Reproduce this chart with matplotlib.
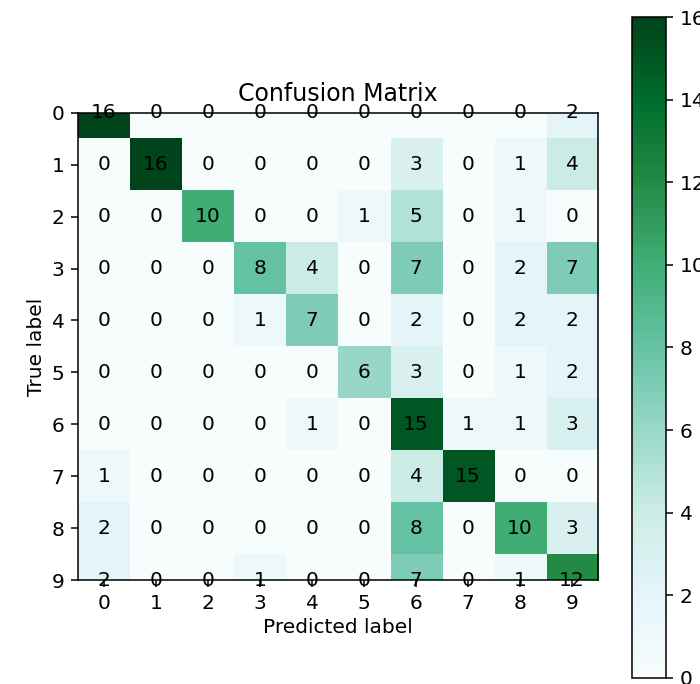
"""Confusion matrix heatmap with colorbar."""

import matplotlib
matplotlib.use("Agg")
import matplotlib.pyplot as plt
import numpy as np

classes = [str(i) for i in range(10)]
cm = np.array([
    [16, 0, 0, 0, 0, 0, 0, 0, 0, 2],
    [0, 16, 0, 0, 0, 0, 3, 0, 1, 4],
    [0, 0, 10, 0, 0, 1, 5, 0, 1, 0],
    [0, 0, 0, 8, 4, 0, 7, 0, 2, 7],
    [0, 0, 0, 1, 7, 0, 2, 0, 2, 2],
    [0, 0, 0, 0, 0, 6, 3, 0, 1, 2],
    [0, 0, 0, 0, 1, 0, 15, 1, 1, 3],
    [1, 0, 0, 0, 0, 0, 4, 15, 0, 0],
    [2, 0, 0, 0, 0, 0, 8, 0, 10, 3],
    [2, 0, 0, 1, 0, 0, 7, 0, 1, 12],
])

FS = 14.5
plt.rcParams["font.family"] = ["DejaVu Sans"]
plt.rcParams["axes.linewidth"] = 1.1
for k in ("xtick", "ytick"):
    plt.rcParams[f"{k}.major.size"] = 4.9
    plt.rcParams[f"{k}.major.width"] = 1.1
    plt.rcParams[f"{k}.major.pad"] = 4.8

fig = plt.figure(figsize=(7.0, 6.84), dpi=100)
ax = fig.add_axes([0.1114, 0.152, 0.743, 0.683])
cax = fig.add_axes([0.903, 0.009, 0.049, 0.966])

im = ax.imshow(cm, interpolation="nearest", cmap="BuGn", vmin=0, vmax=16, aspect="auto")
ax.set_title("Confusion Matrix", fontsize=17, pad=8.5)
ax.set_xticks(np.arange(len(classes)))
ax.set_xticklabels(classes, fontsize=FS)
ax.set_yticks(np.arange(len(classes)))
ax.set_yticklabels(classes, fontsize=FS)
# the old matplotlib ylim quirk: first and last rows cut in half
ax.set_xlim(-0.5, 9.5)
ax.set_ylim(9, 0)

for i in range(cm.shape[0]):
    for j in range(cm.shape[1]):
        ax.text(j, i, format(cm[i, j], "d"), ha="center", va="center",
                color="black", fontsize=FS, clip_on=False)

ax.set_ylabel("True label", fontsize=FS)
ax.set_xlabel("Predicted label", fontsize=FS)

cb = fig.colorbar(im, cax=cax, ticks=np.arange(0, 17, 2))
cb.ax.tick_params(labelsize=FS)
cb.outline.set_linewidth(1.1)

fig.savefig("out.png", dpi=100)
